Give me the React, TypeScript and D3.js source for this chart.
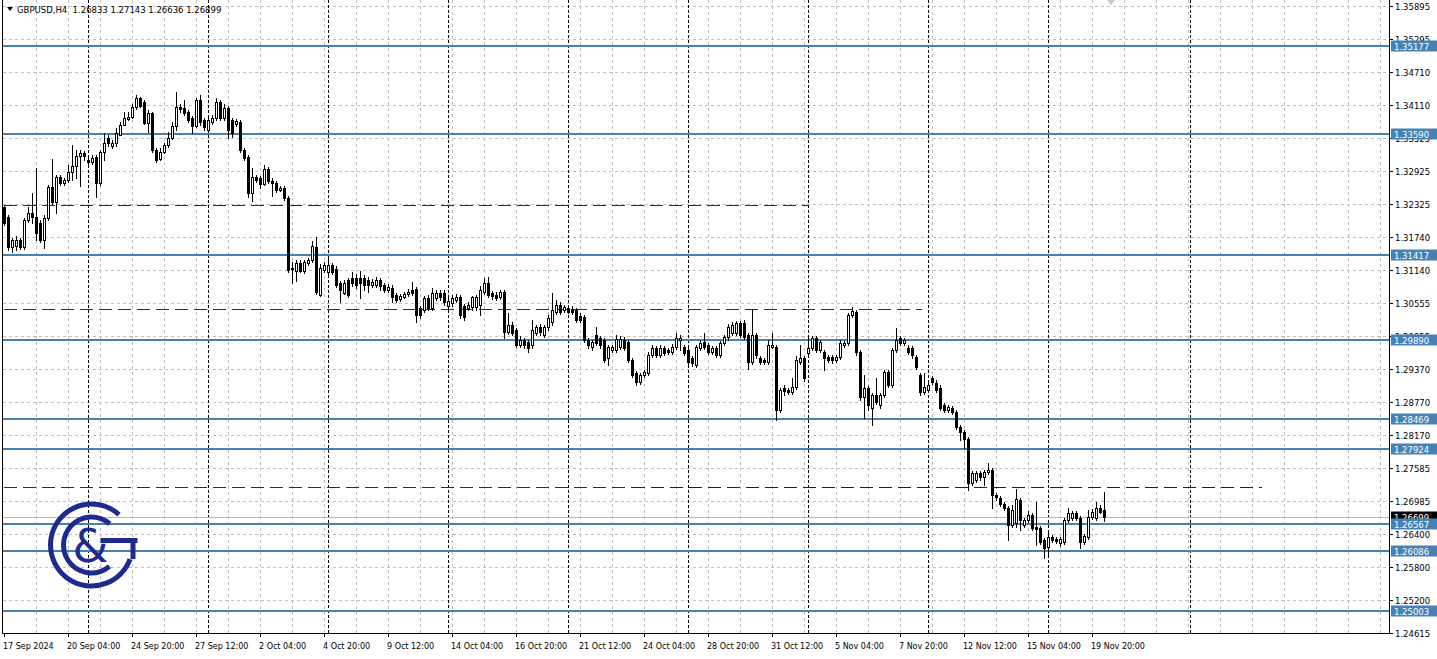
import React from "react";
import * as d3 from "d3";

const W = 1437;
const H = 659;
const PLOT_LEFT = 2;
const PLOT_RIGHT = 1389;
const PLOT_BOTTOM = 633;

const SYMBOL_TITLE = "GBPUSD,H4";
const HEADER_OHLC = ["1.26833", "1.27143", "1.26636", "1.26899"];

const OPEN = [
  1.32277, 1.32097, 1.31557, 1.31575, 1.31683, 1.31557, 1.32043, 1.32169, 1.32097, 1.31989,
  1.31683, 1.32079, 1.32637, 1.32367, 1.32817, 1.32709, 1.32763, 1.32907, 1.33015, 1.33195,
  1.33249, 1.33123, 1.33087, 1.33177, 1.32709, 1.33267, 1.33519, 1.33375, 1.33429, 1.33573,
  1.33753, 1.33861, 1.33897, 1.34077, 1.34239, 1.34167, 1.33789, 1.33969, 1.33303, 1.33141,
  1.33267, 1.33393, 1.33519, 1.33735, 1.34077, 1.34059, 1.33987, 1.33879, 1.33735, 1.34203,
  1.33843, 1.33663, 1.33807, 1.33879, 1.34167, 1.33879, 1.34059, 1.33843, 1.33771, 1.33807,
  1.33303, 1.33177, 1.32529, 1.32817, 1.32799, 1.32691, 1.32961, 1.32745, 1.32709, 1.32583,
  1.32619, 1.32439, 1.31179, 1.31125, 1.31269, 1.31125, 1.31269, 1.31323, 1.31557, 1.30693,
  1.31143, 1.31107, 1.31233, 1.31161, 1.30909, 1.30729, 1.30963, 1.30999, 1.30999, 1.30999,
  1.30999, 1.30963, 1.30873, 1.30873, 1.30963, 1.30873, 1.30783, 1.30819, 1.30693, 1.30621,
  1.30657, 1.30711, 1.30783, 1.30801, 1.30459, 1.30423, 1.30639, 1.30459, 1.30639, 1.30729,
  1.30729, 1.30495, 1.30549, 1.30603, 1.30657, 1.30495, 1.30459, 1.30477, 1.30477, 1.30513,
  1.30747, 1.30909, 1.30729, 1.30693, 1.30657, 1.30747, 1.30027, 1.30153, 1.30063, 1.29793,
  1.29883, 1.29847, 1.29793, 1.30009, 1.30117, 1.29973, 1.30117, 1.30207, 1.30387, 1.30513,
  1.30423, 1.30459, 1.30441, 1.30423, 1.30315, 1.30297, 1.29883, 1.29757, 1.29973, 1.29919,
  1.29883, 1.29559, 1.29703, 1.29703, 1.29757, 1.29883, 1.29847, 1.29523, 1.29289, 1.29127,
  1.29253, 1.29289, 1.29613, 1.29739, 1.29613, 1.29739, 1.29703, 1.29667, 1.29757, 1.29883,
  1.29757, 1.29703, 1.29559, 1.29433, 1.29739, 1.29847, 1.29793, 1.29667, 1.29739, 1.29613,
  1.29829, 1.29937, 1.30009, 1.30009, 1.30189, 1.30189, 1.29973, 1.29487, 1.29973, 1.29559,
  1.29523, 1.29487, 1.29757, 1.29757, 1.28623, 1.29019, 1.28983, 1.28947, 1.29037, 1.29487,
  1.29559, 1.29649, 1.29739, 1.29919, 1.29703, 1.29667, 1.29577, 1.29577, 1.29523, 1.29577,
  1.29793, 1.29829, 1.30333, 1.30387, 1.29667, 1.28857, 1.29019, 1.28659, 1.28893, 1.28713,
  1.28893, 1.29307, 1.29073, 1.29703, 1.29919, 1.29829, 1.29739, 1.29739, 1.29577, 1.29253,
  1.28947, 1.28983, 1.29199, 1.29109, 1.29019, 1.28713, 1.28623, 1.28659, 1.28587, 1.28317,
  1.28227, 1.28101, 1.27309, 1.27363, 1.27489, 1.27417, 1.27507, 1.27543, 1.27093, 1.27039,
  1.26931, 1.26859, 1.26553, 1.26589, 1.27003, 1.26553, 1.26643, 1.26733, 1.26517, 1.26499,
  1.26283, 1.26157, 1.26337, 1.26301, 1.26229, 1.26247, 1.26643, 1.26679, 1.26769, 1.26679,
  1.26247, 1.26337, 1.26697, 1.26679, 1.26859, 1.26833,
];

const HIGH = [
  1.32313, 1.32133, 1.31719, 1.31755, 1.31719, 1.32079, 1.32277, 1.32529, 1.32979, 1.32043,
  1.32133, 1.32673, 1.33141, 1.32853, 1.32853, 1.32799, 1.33033, 1.33393, 1.33303, 1.33303,
  1.33285, 1.33213, 1.33213, 1.33213, 1.33303, 1.33609, 1.33573, 1.33483, 1.33699, 1.33807,
  1.33987, 1.33987, 1.34131, 1.34293, 1.34257, 1.34203, 1.34023, 1.33987, 1.33339, 1.33339,
  1.33429, 1.33627, 1.33807, 1.34347, 1.34131, 1.34203, 1.34023, 1.33915, 1.34239, 1.34293,
  1.33879, 1.33897, 1.33933, 1.34239, 1.34203, 1.34131, 1.34095, 1.33879, 1.33861, 1.33843,
  1.33339, 1.33213, 1.32979, 1.32853, 1.32835, 1.33033, 1.32997, 1.32799, 1.32745, 1.32655,
  1.32655, 1.32475, 1.31287, 1.31323, 1.31323, 1.31323, 1.31359, 1.31665, 1.31737, 1.31251,
  1.31287, 1.31359, 1.31269, 1.31215, 1.30945, 1.30963, 1.30999, 1.31107, 1.31071, 1.31125,
  1.31053, 1.31017, 1.30981, 1.31017, 1.30999, 1.30909, 1.30891, 1.30873, 1.30729, 1.30711,
  1.30747, 1.30801, 1.30927, 1.30837, 1.30495, 1.30675, 1.30693, 1.30819, 1.30783, 1.30783,
  1.30783, 1.30639, 1.30693, 1.30711, 1.30693, 1.30531, 1.30567, 1.30675, 1.30693, 1.30855,
  1.30999, 1.31017, 1.30765, 1.30747, 1.30783, 1.30783, 1.30369, 1.30207, 1.30099, 1.29955,
  1.29919, 1.29883, 1.30243, 1.30153, 1.30171, 1.30153, 1.30333, 1.30729, 1.30603, 1.30567,
  1.30513, 1.30513, 1.30495, 1.30459, 1.30369, 1.30333, 1.29919, 1.29883, 1.30117, 1.29955,
  1.29919, 1.29793, 1.29793, 1.29973, 1.29955, 1.29937, 1.29883, 1.29559, 1.29325, 1.29289,
  1.29343, 1.29667, 1.29793, 1.29775, 1.29793, 1.29775, 1.29739, 1.29811, 1.30009, 1.29973,
  1.29793, 1.29739, 1.29595, 1.29793, 1.29883, 1.30009, 1.29829, 1.29775, 1.29775, 1.29865,
  1.29973, 1.30171, 1.30207, 1.30225, 1.30225, 1.30243, 1.30009, 1.30441, 1.30009, 1.29595,
  1.29559, 1.29883, 1.30009, 1.29793, 1.29019, 1.29073, 1.29019, 1.29199, 1.29595, 1.29793,
  1.29595, 1.29973, 1.29955, 1.29955, 1.29883, 1.29703, 1.29613, 1.29613, 1.29613, 1.29883,
  1.29865, 1.30369, 1.30477, 1.30423, 1.29703, 1.29253, 1.29055, 1.28929, 1.29199, 1.28929,
  1.29343, 1.29343, 1.29739, 1.30099, 1.29955, 1.29919, 1.29793, 1.29775, 1.29613, 1.29289,
  1.29289, 1.29127, 1.29235, 1.29163, 1.29073, 1.28749, 1.28713, 1.28695, 1.28623, 1.28353,
  1.28263, 1.28137, 1.27525, 1.27525, 1.27525, 1.27543, 1.27669, 1.27579, 1.27129, 1.27075,
  1.26967, 1.26895, 1.26913, 1.27201, 1.27039, 1.26679, 1.26805, 1.26769, 1.26967, 1.26535,
  1.26319, 1.26463, 1.26373, 1.26337, 1.26337, 1.26679, 1.26859, 1.26805, 1.26805, 1.26715,
  1.26391, 1.26823, 1.26841, 1.26967, 1.26913, 1.27143,
];

const LOW = [
  1.31953, 1.31503, 1.31467, 1.31503, 1.31521, 1.31521, 1.32007, 1.31989, 1.31683, 1.31647,
  1.31539, 1.32043, 1.32331, 1.32169, 1.32673, 1.32673, 1.32727, 1.32763, 1.32799, 1.32655,
  1.33123, 1.33015, 1.33051, 1.32457, 1.32673, 1.33123, 1.33375, 1.33339, 1.33375, 1.33573,
  1.33753, 1.33843, 1.33879, 1.34041, 1.34077, 1.33771, 1.33627, 1.33267, 1.33087, 1.33123,
  1.33249, 1.33357, 1.33501, 1.33663, 1.33987, 1.33933, 1.33807, 1.33609, 1.33717, 1.33753,
  1.33663, 1.33627, 1.33771, 1.33843, 1.33843, 1.33843, 1.33519, 1.33537, 1.33735, 1.33267,
  1.33123, 1.32457, 1.32385, 1.32727, 1.32619, 1.32673, 1.32709, 1.32475, 1.32547, 1.32565,
  1.32403, 1.31107, 1.30909, 1.30945, 1.31107, 1.31089, 1.31233, 1.31287, 1.30711, 1.30675,
  1.31107, 1.31071, 1.31071, 1.30837, 1.30567, 1.30711, 1.30657, 1.30855, 1.30819, 1.30639,
  1.30783, 1.30747, 1.30837, 1.30837, 1.30783, 1.30747, 1.30747, 1.30567, 1.30567, 1.30585,
  1.30639, 1.30675, 1.30693, 1.30207, 1.30279, 1.30387, 1.30423, 1.30423, 1.30603, 1.30603,
  1.30513, 1.30459, 1.30495, 1.30567, 1.30279, 1.30243, 1.30423, 1.30423, 1.30423, 1.30333,
  1.30711, 1.30657, 1.30621, 1.30603, 1.30621, 1.29919, 1.29991, 1.29973, 1.29757, 1.29757,
  1.29739, 1.29667, 1.29739, 1.29973, 1.29973, 1.29937, 1.30063, 1.30153, 1.30351, 1.30351,
  1.30387, 1.30369, 1.30351, 1.30207, 1.30207, 1.29847, 1.29739, 1.29703, 1.29793, 1.29739,
  1.29487, 1.29433, 1.29667, 1.29667, 1.29721, 1.29703, 1.29487, 1.29217, 1.29073, 1.29091,
  1.29217, 1.29253, 1.29577, 1.29577, 1.29577, 1.29613, 1.29631, 1.29631, 1.29721, 1.29703,
  1.29613, 1.29433, 1.29415, 1.29397, 1.29703, 1.29721, 1.29631, 1.29631, 1.29577, 1.29577,
  1.29793, 1.29883, 1.29973, 1.29973, 1.29937, 1.29901, 1.29361, 1.29451, 1.29559, 1.29451,
  1.29451, 1.29451, 1.29739, 1.28443, 1.28587, 1.28893, 1.28911, 1.28911, 1.29001, 1.29451,
  1.29145, 1.29613, 1.29703, 1.29667, 1.29667, 1.29343, 1.29487, 1.29469, 1.29487, 1.29541,
  1.29757, 1.29793, 1.30297, 1.29613, 1.28803, 1.28479, 1.28623, 1.28353, 1.28731, 1.28659,
  1.28857, 1.29037, 1.29037, 1.29667, 1.29793, 1.29793, 1.29631, 1.29559, 1.29361, 1.28893,
  1.28911, 1.28947, 1.29091, 1.28947, 1.28623, 1.28587, 1.28587, 1.28551, 1.28281, 1.28083,
  1.27939, 1.27183, 1.27273, 1.27327, 1.27363, 1.27273, 1.27471, 1.26859, 1.27003, 1.26895,
  1.26823, 1.26283, 1.26517, 1.26517, 1.26463, 1.26517, 1.26607, 1.26463, 1.26193, 1.26211,
  1.25959, 1.25977, 1.26247, 1.26229, 1.26175, 1.26211, 1.26607, 1.26643, 1.26643, 1.26139,
  1.26211, 1.26301, 1.26661, 1.26643, 1.26769, 1.26636,
];

const CLOSE = [
  1.31989, 1.31557, 1.31683, 1.31683, 1.31557, 1.32043, 1.32169, 1.32097, 1.31809, 1.31683,
  1.32079, 1.32637, 1.32367, 1.32817, 1.32709, 1.32763, 1.32907, 1.33015, 1.33195, 1.33249,
  1.33195, 1.33087, 1.33159, 1.32709, 1.33267, 1.33429, 1.33429, 1.33429, 1.33609, 1.33753,
  1.33879, 1.33897, 1.34077, 1.34239, 1.34095, 1.33789, 1.33969, 1.33303, 1.33123, 1.33267,
  1.33393, 1.33519, 1.33735, 1.34077, 1.34041, 1.33969, 1.33843, 1.33735, 1.34203, 1.33807,
  1.33717, 1.33843, 1.33879, 1.34167, 1.33879, 1.34059, 1.33663, 1.33609, 1.33825, 1.33303,
  1.33159, 1.32529, 1.32817, 1.32763, 1.32691, 1.32961, 1.32745, 1.32709, 1.32583, 1.32619,
  1.32439, 1.31143, 1.31161, 1.31269, 1.31125, 1.31287, 1.31323, 1.31575, 1.30747, 1.31179,
  1.31233, 1.31233, 1.31107, 1.30873, 1.30783, 1.30909, 1.30693, 1.30909, 1.30873, 1.30909,
  1.30873, 1.30873, 1.30927, 1.30963, 1.30855, 1.30783, 1.30837, 1.30657, 1.30603, 1.30675,
  1.30711, 1.30747, 1.30729, 1.30333, 1.30333, 1.30639, 1.30459, 1.30729, 1.30729, 1.30657,
  1.30567, 1.30585, 1.30639, 1.30657, 1.30333, 1.30297, 1.30513, 1.30657, 1.30657, 1.30783,
  1.30909, 1.30693, 1.30675, 1.30639, 1.30747, 1.30027, 1.30153, 1.30009, 1.29793, 1.29883,
  1.29793, 1.29739, 1.30063, 1.30117, 1.30027, 1.30117, 1.30279, 1.30423, 1.30513, 1.30387,
  1.30477, 1.30387, 1.30387, 1.30243, 1.30243, 1.29883, 1.29793, 1.29847, 1.29829, 1.29793,
  1.29523, 1.29757, 1.29757, 1.29901, 1.29901, 1.29739, 1.29523, 1.29253, 1.29127, 1.29253,
  1.29307, 1.29613, 1.29739, 1.29613, 1.29739, 1.29649, 1.29667, 1.29757, 1.29919, 1.29919,
  1.29649, 1.29487, 1.29469, 1.29757, 1.29829, 1.29757, 1.29667, 1.29739, 1.29613, 1.29829,
  1.29937, 1.30117, 1.30153, 1.30189, 1.29973, 1.29937, 1.29487, 1.29973, 1.29613, 1.29487,
  1.29487, 1.29793, 1.29793, 1.28623, 1.28983, 1.28965, 1.28947, 1.29037, 1.29523, 1.29559,
  1.29199, 1.29739, 1.29919, 1.29703, 1.29847, 1.29559, 1.29523, 1.29523, 1.29577, 1.29829,
  1.29829, 1.30333, 1.30405, 1.29667, 1.28857, 1.29019, 1.28713, 1.28893, 1.28767, 1.28893,
  1.29307, 1.29073, 1.29703, 1.29883, 1.29829, 1.29883, 1.29667, 1.29613, 1.29397, 1.28947,
  1.29037, 1.29073, 1.29127, 1.28983, 1.28659, 1.28623, 1.28677, 1.28587, 1.28317, 1.28227,
  1.28101, 1.27309, 1.27489, 1.27489, 1.27417, 1.27507, 1.27543, 1.27093, 1.27057, 1.26931,
  1.26859, 1.26553, 1.26823, 1.27021, 1.26643, 1.26643, 1.26733, 1.26499, 1.26481, 1.26247,
  1.26139, 1.26337, 1.26283, 1.26265, 1.26301, 1.26643, 1.26769, 1.26769, 1.26679, 1.26247,
  1.26355, 1.26697, 1.26787, 1.26859, 1.26787, 1.26699,
];

const PRICE_TICKS = [
  1.35895, 1.35295, 1.3471, 1.3411, 1.33525, 1.32925, 1.32325, 1.3174, 1.3114, 1.30555,
  1.29955, 1.2937, 1.2877, 1.2817, 1.27585, 1.26985, 1.264, 1.258, 1.252, 1.24615,
];

const TIME_LABELS = [
  "17 Sep 2024", "20 Sep 04:00", "24 Sep 20:00", "27 Sep 12:00", "2 Oct 04:00", "4 Oct 20:00",
  "9 Oct 12:00", "14 Oct 04:00", "16 Oct 20:00", "21 Oct 12:00", "24 Oct 04:00", "28 Oct 20:00",
  "31 Oct 12:00", "5 Nov 04:00", "7 Nov 20:00", "12 Nov 12:00", "15 Nov 04:00", "19 Nov 20:00",
];
const TIME_LABEL_BARS = [0, 16, 32, 48, 64, 80, 96, 112, 128, 144, 160, 176, 192, 208, 224, 240, 256, 272];

const WEEK_START_BARS = [21, 51, 81, 111, 141, 171, 201, 231, 261];
const VLINE_BARS = [296.5];

const LEVELS = [1.35177, 1.3359, 1.31417, 1.2989, 1.28469, 1.27924, 1.26567, 1.26086, 1.25003];

const TREND_PRICES = [1.32313, 1.30441, 1.27237, 1.27237];
const TREND_FROM = [0, 0, 0, 157];
const TREND_TO = [201, 229.5, 157, 314.5];
const TREND_COLORS = ["#1c2a80", "#1c2a80", "#1c2a80", "#222222"];

const CURRENT_PRICE = 1.26699;

const VISIBLE_BARS = 346.75;

const FONT = "'DejaVu Sans', Verdana, sans-serif";
const LEVEL_BLUE = "#4682B4";
const GRID = "#C0C0C0";
const LOGO = "#1f2a8e";

export default function App() {
  const x = d3.scaleLinear().domain([-0.5, VISIBLE_BARS - 0.5]).range([PLOT_LEFT, PLOT_RIGHT]);
  const y = d3.scaleLinear().domain([1.24615, 1.35895]).range([PLOT_BOTTOM, 6]);
  const fmt = d3.format(".5f");

  const gridBars = d3.range(8, VISIBLE_BARS, 8);
  const px = (v: number) => Math.round(v) + 0.5;

  const outerArc = d3.arc()({
    innerRadius: 38.5,
    outerRadius: 43.5,
    startAngle: (110 * Math.PI) / 180,
    endAngle: (402 * Math.PI) / 180,
  } as any) as string;
  const innerArc = d3.arc()({
    innerRadius: 25.5,
    outerRadius: 30.5,
    startAngle: (140 * Math.PI) / 180,
    endAngle: (401 * Math.PI) / 180,
  } as any) as string;

  return (
    <div style={{ position: "absolute", left: 0, top: 0, width: W, height: H, background: "#fff" }}>
      <svg width={W} height={H} style={{ display: "block" }} fontFamily={FONT}>
        <rect x={0} y={0} width={W} height={H} fill="#fff" />
        {/* grid */}
        <g stroke={GRID} strokeWidth={1} strokeDasharray="3,3">
          {PRICE_TICKS.map((t, i) => (
            <line key={"gh" + i} x1={PLOT_LEFT + 1} x2={PLOT_RIGHT} y1={px(y(t))} y2={px(y(t))} />
          ))}
          {gridBars.map((b) => (
            <line key={"gv" + b} x1={px(x(b))} x2={px(x(b))} y1={0} y2={PLOT_BOTTOM} />
          ))}
        </g>
        {/* week separators */}
        <g stroke="#000" strokeWidth={1} strokeDasharray="3,2">
          {WEEK_START_BARS.concat(VLINE_BARS).map((b) => (
            <line key={"ws" + b} x1={px(x(b))} x2={px(x(b))} y1={0} y2={PLOT_BOTTOM} />
          ))}
        </g>
        {/* dashed trend lines */}
        {TREND_PRICES.map((p, i) => (
          <line
            key={"tr" + i}
            x1={x(TREND_FROM[i])}
            x2={x(TREND_TO[i])}
            y1={px(y(p))}
            y2={px(y(p))}
            stroke={TREND_COLORS[i]}
            strokeWidth={1}
            strokeDasharray="13,6"
          />
        ))}
        {/* current price line */}
        <line x1={PLOT_LEFT + 1} x2={PLOT_RIGHT} y1={px(y(CURRENT_PRICE))} y2={px(y(CURRENT_PRICE))} stroke="#B8B8B8" strokeWidth={1} />
        {/* horizontal levels */}
        {LEVELS.map((l, i) => (
          <line key={"lv" + i} x1={PLOT_LEFT + 1} x2={PLOT_RIGHT} y1={Math.round(y(l))} y2={Math.round(y(l))} stroke={LEVEL_BLUE} strokeWidth={2} />
        ))}
        {/* candles */}
        <g>
          {CLOSE.map((c, i) => {
            const o = OPEN[i];
            const cx = Math.round(x(i));
            const top = Math.round(y(Math.max(o, c)));
            const bot = Math.round(y(Math.min(o, c)));
            const bull = c >= o;
            return (
              <g key={"c" + i}>
                <line x1={cx + 0.5} x2={cx + 0.5} y1={Math.round(y(HIGH[i]))} y2={Math.round(y(LOW[i])) + 1} stroke="#000" strokeWidth={1} />
                <rect x={cx - 0.5} y={top + 0.5} width={2} height={Math.max(bot - top, 0)} fill={bull ? "#fff" : "#000"} stroke="#000" strokeWidth={1} />
              </g>
            );
          })}
        </g>
        {/* logo */}
        <g transform="translate(91.5,545)" fill={LOGO}>
          <path d={outerArc} />
          <path d={innerArc} />
          <rect x={9} y={-7} width={37} height={5} />
          <rect x={39} y={-7} width={5} height={21} />
          <text x={-1} y={1} fontSize={46} fontFamily={FONT} textAnchor="middle" dominantBaseline="central">&amp;</text>
        </g>
        {/* frame */}
        <g stroke="#000" strokeWidth={1} shapeRendering="crispEdges">
          <line x1={PLOT_LEFT + 0.5} x2={PLOT_LEFT + 0.5} y1={0} y2={PLOT_BOTTOM + 1} />
          <line x1={PLOT_RIGHT + 0.5} x2={PLOT_RIGHT + 0.5} y1={0} y2={PLOT_BOTTOM + 1} />
          <line x1={PLOT_LEFT} x2={PLOT_RIGHT + 1} y1={PLOT_BOTTOM + 0.5} y2={PLOT_BOTTOM + 0.5} />
        </g>
        {/* right axis */}
        <g fontSize={8.5} fill="#000">
          {PRICE_TICKS.map((t, i) => (
            <g key={"yt" + i}>
              <line x1={PLOT_RIGHT + 1} x2={PLOT_RIGHT + 4} y1={px(y(t))} y2={px(y(t))} stroke="#000" />
              <text x={1395} y={Math.round(y(t)) + 3.5}>{fmt(t)}</text>
            </g>
          ))}
        </g>
        <rect x={1391} y={Math.round(y(CURRENT_PRICE)) - 5.5} width={46} height={11} fill="#000" />
        <text x={1394} y={Math.round(y(CURRENT_PRICE)) + 3.5} fontSize={8.5} fill="#fff">{fmt(CURRENT_PRICE)}</text>
        {LEVELS.map((l, i) => (
          <g key={"lb" + i}>
            <rect x={1391} y={Math.round(y(l)) - 5.5} width={46} height={11} fill={LEVEL_BLUE} />
            <text x={1394} y={Math.round(y(l)) + 3.5} fontSize={8.5} fill="#fff">{fmt(l)}</text>
          </g>
        ))}
        {/* bottom axis */}
        <g fontSize={8} fill="#000">
          {TIME_LABEL_BARS.map((b, i) => (
            <g key={"xt" + i}>
              <line x1={px(x(b))} x2={px(x(b))} y1={PLOT_BOTTOM} y2={PLOT_BOTTOM + 4} stroke="#000" />
              <text x={Math.round(x(b)) - 1} y={649}>{TIME_LABELS[i]}</text>
            </g>
          ))}
        </g>
        {/* top marker */}
        <polygon points="1107,0 1115,0 1111,5" fill="#C8C8C8" />
        {/* header */}
        <polygon points="7,7 13,7 10,11" fill="#000" />
        <text x={17} y={13} fontSize={8.5} fill="#000" style={{ whiteSpace: "pre" }}>
          {SYMBOL_TITLE + "  " + HEADER_OHLC.join(" ")}
        </text>
      </svg>
    </div>
  );
}
